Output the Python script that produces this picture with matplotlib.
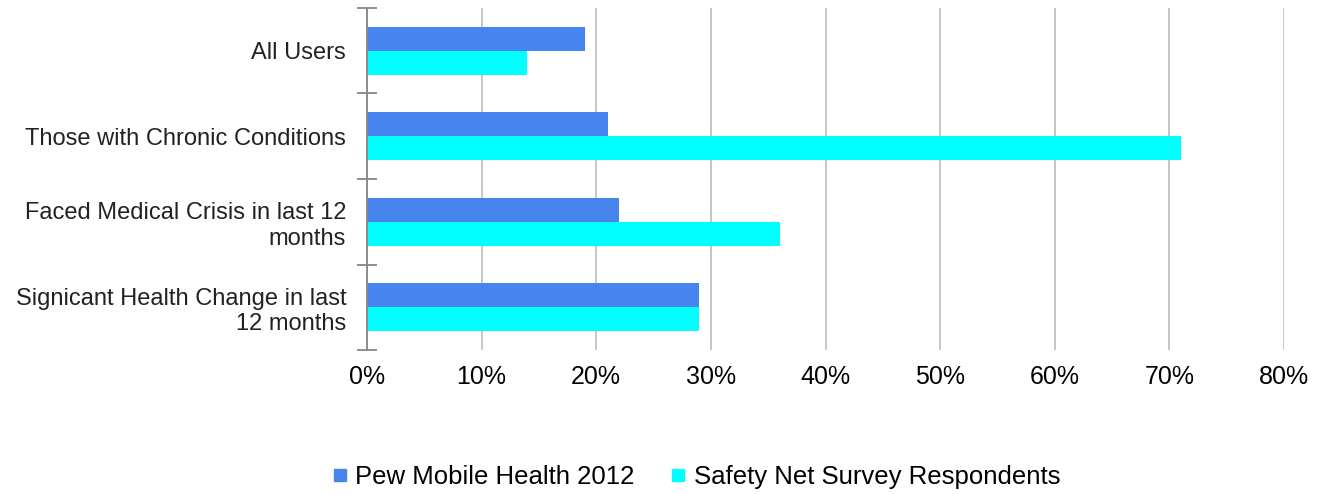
import numpy as np
import matplotlib.pyplot as plt
from matplotlib.lines import Line2D

plt.rcParams['font.family'] = ['Liberation Sans', 'DejaVu Sans']

# survey groups, top to bottom
categories = [
    "All Users",
    "Those with Chronic Conditions",
    "Faced Medical Crisis in last 12\nmonths",
    "Signicant Health Change in last\n12 months",
]
pew_2012 = [19, 21, 22, 29]
safety_net = [14, 71, 36, 29]
series_names = ["Pew Mobile Health 2012", "Safety Net Survey Respondents"]
x_ticks = [0, 10, 20, 30, 40, 50, 60, 70, 80]

pew_color = "#4684EE"
net_color = "#00FFFF"

fig = plt.figure(figsize=(13.17, 4.94), dpi=100)
ax = fig.add_axes([367 / 1317, 1 - 350 / 494, (1284 - 367) / 1317, 342 / 494])

y = np.arange(len(categories))
h = 0.28
ax.barh(y - h / 2, pew_2012, height=h, color=pew_color, zorder=3)
ax.barh(y + h / 2, safety_net, height=h, color=net_color, zorder=3)

ax.set_xlim(0, 80)
ax.set_ylim(len(categories) - 0.5, -0.5)

# vertical gridlines
ax.set_xticks(x_ticks)
ax.set_xticklabels([f"{t}%" for t in x_ticks], fontsize=18)
ax.tick_params(axis="x", length=0, pad=11)
ax.grid(axis="x", color="#c0c0c0", linewidth=1.3, zorder=0)

# category boundaries as major ticks, names as minor tick labels
ax.set_yticks(np.arange(len(categories) + 1) - 0.5)
ax.set_yticklabels([])
ax.tick_params(axis="y", which="major", direction="inout", length=14,
               width=1.3, color="#868686")
ax.set_yticks(y, minor=True)
ax.set_yticklabels(categories, minor=True, fontsize=17, ha="right",
                   multialignment="right", color="#222222")
ax.tick_params(axis="y", which="minor", length=0, pad=15)

for side in ["top", "right", "bottom"]:
    ax.spines[side].set_visible(False)
ax.spines["left"].set_color("#868686")
ax.spines["left"].set_linewidth(1.3)
ax.spines["left"].set_zorder(4)

handles = [
    Line2D([], [], marker="s", linestyle="none", markersize=9,
           markerfacecolor=c, markeredgecolor=c)
    for c in (pew_color, net_color)
]
fig.legend(handles, series_names, loc="center", bbox_to_anchor=(695 / 1317, 1 - 477 / 494),
           ncol=2, frameon=False, fontsize=18.5, handletextpad=0.2,
           columnspacing=1.3, handlelength=0.8)

fig.savefig("out.png", dpi=100)
